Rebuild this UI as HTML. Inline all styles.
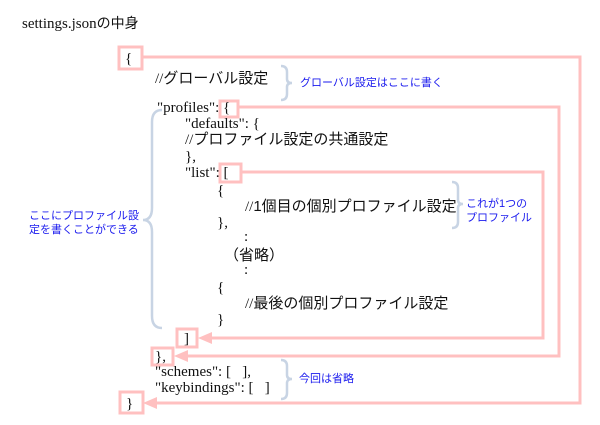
<!DOCTYPE html>
<html><head><meta charset="utf-8"><style>
html,body{margin:0;padding:0;background:#fff;}
svg{display:block}
.c{font-family:"Liberation Serif","Noto Sans CJK JP",serif;font-size:15px;fill:#111}
.j{font-family:"Liberation Sans","Noto Sans CJK JP",sans-serif;font-size:15px;fill:#111}
.b{font-family:"Liberation Sans","Noto Sans CJK JP",sans-serif;font-size:11px;fill:#1a1aee}
</style></head><body>
<svg width="600" height="425" viewBox="0 0 600 425" xmlns="http://www.w3.org/2000/svg">
<text x="22" y="28" class="c" style="font-size:15px">settings.json<tspan class="j" style="font-size:14px">の中身</tspan></text>

<g fill="none" stroke="#ffc0c0" stroke-width="3">
<rect x="119" y="47" width="23" height="22"/>
<rect x="220" y="101" width="18" height="16"/>
<rect x="220" y="164" width="21" height="18"/>
<rect x="177" y="329" width="20" height="18"/>
<rect x="152" y="348" width="21" height="17"/>
<rect x="120" y="392" width="23" height="21"/>
<polyline points="142,57 580,57 580,403 148,403"/>
<polyline points="238,107 559,107 559,356 180,356"/>
<polyline points="241,172 543,172 543,338 204,338"/>
</g>
<g fill="#ffc0c0">
<polygon points="143,403 157,397 157,409"/>
<polygon points="174,356 188,350 188,362"/>
<polygon points="198,338 212,332 212,344"/>
</g>

<g fill="none" stroke="#c8d4e4" stroke-width="2.5">
<path d="M281,66 q6,0 6,6 v7 q0,4 5,4 q-5,0 -5,4 v7 q0,6 -6,6"/>
<path d="M452,182 q6,0 6,6 v12 q0,4 5,4 q-5,0 -5,4 v14 q0,6 -6,6"/>
<path d="M162,110 q-10,0 -10,12 v86 q0,12 -9,12 q9,0 9,12 v84 q0,12 10,12"/>
<path d="M281,360 q6,0 6,6 v9 q0,4 5,4 q-5,0 -5,4 v10 q0,6 -6,6"/>
</g>

<text x="125" y="63" class="c">{</text>
<text x="155" y="83" class="c">//<tspan class="j">グローバル設定</tspan></text>
<text x="157" y="112" class="c">"profiles": {</text>
<text x="185" y="128" class="c">"defaults": {</text>
<text x="185" y="144" class="c">//<tspan class="j">プロファイル設定の共通設定</tspan></text>
<text x="185" y="161" class="c">},</text>
<text x="185" y="177" class="c">"list": [</text>
<text x="217" y="195" class="c">{</text>
<text x="245" y="211" class="c">//<tspan class="j">1個目の個別プロファイル設定</tspan></text>
<text x="217" y="227" class="c">},</text>
<text x="244" y="241" class="c">:</text>
<text x="224" y="260" class="j">（省略）</text>
<text x="244" y="274" class="c">:</text>
<text x="217" y="292" class="c">{</text>
<text x="245" y="308" class="c">//<tspan class="j">最後の個別プロファイル設定</tspan></text>
<text x="217" y="324" class="c">}</text>
<text x="184" y="343" class="c">]</text>
<text x="155" y="361" class="c">},</text>
<text x="155" y="376" class="c">"schemes": [&#160;&#160;&#160;],</text>
<text x="155" y="392" class="c">"keybindings": [&#160;&#160;&#160;]</text>
<text x="126" y="408" class="c">}</text>

<text x="300" y="86" class="b">グローバル設定はここに書く</text>
<text x="466" y="207" class="b">これが1つの</text>
<text x="466" y="221" class="b">プロファイル</text>
<text x="29" y="219" class="b">ここにプロファイル設</text>
<text x="29" y="233" class="b">定を書くことができる</text>
<text x="299" y="382" class="b">今回は省略</text>
</svg>
</body></html>
